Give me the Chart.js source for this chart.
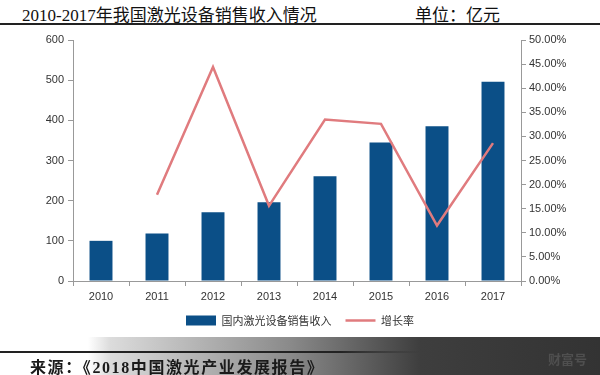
<!DOCTYPE html>
<html>
<head>
<meta charset="UTF-8">
<title>2010-2017年我国激光设备销售收入情况</title>
<script src="https://cdn.jsdelivr.net/npm/chart.js"></script>
<style>
    html, body {
        margin: 0;
        padding: 0;
        width: 600px;
        height: 375px;
        overflow: hidden;
        background: #fff;
        font-family: "Liberation Serif", "Noto Sans CJK SC", serif;
    }
    #title {
        position: absolute; left: 22px; top: 1px;
        font-size: 17px; color: #111;
    }
    #unit {
        position: absolute; left: 415px; top: 1px;
        font-size: 17px; color: #111;
    }
    #topRule {
        position: absolute; left: 0; top: 23px; width: 600px; height: 2px; background: #222;
    }
    #chart-box {
        position: absolute; left: 0; top: 0; width: 600px; height: 340px;
    }
    #footer {
        position: absolute; left: 0; top: 337px; width: 600px; height: 38px;
        background: linear-gradient(to right, #fff 0px, #fff 88px, #dcdcdc 110px, #8a8a8a 290px, #3e3e3e 420px, #333 600px);
    }
    #bottomRule {
        position: absolute; left: 0; top: 351px; width: 420px; height: 2px;
        background: linear-gradient(to right, #222 0, #222 340px, rgba(40,40,40,0) 420px);
    }
    #source {
        position: absolute; left: 30px; top: 354px;
        font-size: 16px; font-weight: bold; color: #1a1a1a; letter-spacing: 1.6px;
    }
    #mark {
        position: absolute; left: 548px; top: 349px;
        font-family: "Noto Sans CJK SC", sans-serif;
        font-size: 13px; font-weight: bold; color: #4f4f4f;
    }
</style>
</head>
<body>
<div id="title">2010-2017年我国激光设备销售收入情况</div>
<div id="unit">单位：亿元</div>
<div id="topRule"></div>
<div id="chart-box"><canvas id="laserChart" width="600" height="340"></canvas></div>
<div id="footer"></div>
<div id="bottomRule"></div>
<div id="source">来源：《2018中国激光产业发展报告》</div>
<div id="mark">财富号</div>

<script>
    const years = ['2010', '2011', '2012', '2013', '2014', '2015', '2016', '2017'];
    // 国内激光设备销售收入（亿元）
    const revenue = [100, 118, 171, 196, 261, 345, 385, 496];
    // 增长率（%）
    const growth = [null, 17.9, 44.4, 15.6, 33.5, 32.6, 11.5, 28.6];

    const tickFont = { family: '"Liberation Sans", Arial, sans-serif', size: 11 };

    new Chart(document.getElementById('laserChart'), {
        data: {
            labels: years,
            datasets: [
                {
                    type: 'line',
                    label: '增长率',
                    data: growth,
                    yAxisID: 'y1',
                    borderColor: '#e07b7e',
                    backgroundColor: '#e07b7e',
                    borderWidth: 2.5,
                    pointRadius: 0,
                    tension: 0,
                    order: 1
                },
                {
                    type: 'bar',
                    label: '国内激光设备销售收入',
                    data: revenue,
                    yAxisID: 'y',
                    backgroundColor: '#0b4f87',
                    categoryPercentage: 1,
                    barPercentage: 0.41,
                    order: 2
                }
            ]
        },
        options: {
            responsive: false,
            animation: false,
            layout: { padding: { top: 40, left: 0, right: 0, bottom: 4 } },
            scales: {
                x: {
                    grid: { drawOnChartArea: false, color: '#999', tickLength: 5 },
                    border: { color: '#999' },
                    ticks: { color: '#333', font: tickFont, padding: 4 },
                    afterFit: s => { s.height = 20; }
                },
                y: {
                    position: 'left',
                    min: 0, max: 600,
                    grid: { drawOnChartArea: false, color: '#999', tickLength: 5 },
                    border: { color: '#999' },
                    ticks: { stepSize: 100, color: '#333', font: tickFont, padding: 4 },
                    afterFit: s => { s.width = 73; }
                },
                y1: {
                    position: 'right',
                    min: 0, max: 50,
                    grid: { drawOnChartArea: false, color: '#999', tickLength: 5 },
                    border: { color: '#999' },
                    ticks: {
                        stepSize: 5, color: '#333', font: tickFont, padding: 3,
                        callback: v => v.toFixed(2) + '%'
                    },
                    afterFit: s => { s.width = 79; }
                }
            },
            plugins: {
                legend: {
                    position: 'bottom',
                    reverse: true,
                    labels: {
                        color: '#333',
                        font: { family: '"Noto Sans CJK SC", sans-serif', size: 11 },
                        usePointStyle: true,
                        pointStyleWidth: 30,
                        boxHeight: 10,
                        padding: 14,
                        generateLabels: chart => chart.data.datasets.map((ds, i) => ({
                            text: ds.label,
                            fillStyle: ds.backgroundColor,
                            strokeStyle: ds.backgroundColor,
                            lineWidth: ds.type === 'line' ? 2.5 : 0,
                            pointStyle: ds.type === 'line' ? 'line' : 'rect',
                            hidden: false,
                            datasetIndex: i,
                            fontColor: '#333'
                        }))
                    }
                },
                tooltip: { enabled: false }
            }
        }
    });
</script>
</body>
</html>
